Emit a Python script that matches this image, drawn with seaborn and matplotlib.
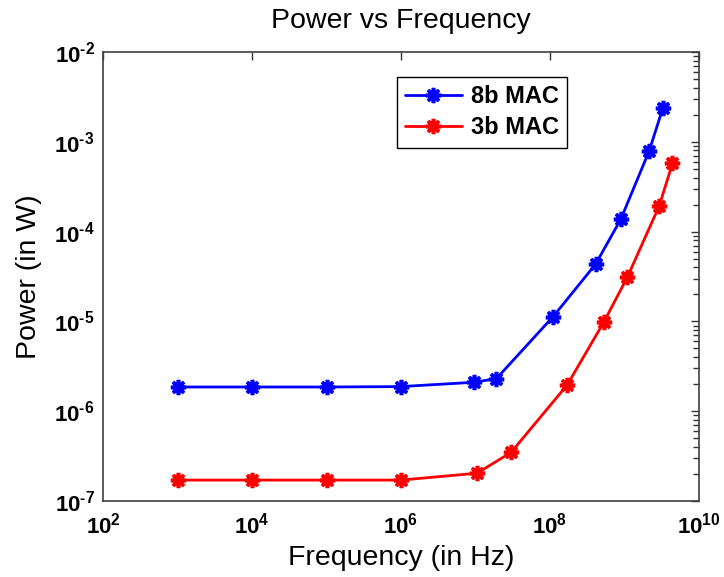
import numpy as np
import pandas as pd
import matplotlib
matplotlib.use("Agg")
import matplotlib.pyplot as plt
import seaborn as sns
from matplotlib.ticker import LogLocator, FixedLocator, FuncFormatter, NullFormatter

# Data
freq_8b = [1e3, 1e4, 1e5, 1e6, 9.5e6, 1.9e7, 1.1e8, 4.1e8, 8.9e8, 2.15e9, 3.26e9]
power_8b = [1.86e-6, 1.86e-6, 1.86e-6, 1.88e-6, 2.1e-6, 2.3e-6, 1.13e-5, 4.35e-5, 1.37e-4, 7.96e-4, 2.36e-3]
freq_3b = [1e3, 1e4, 1e5, 1e6, 1.05e7, 3e7, 1.7e8, 5.3e8, 1.09e9, 2.93e9, 4.4e9]
power_3b = [1.71e-7, 1.71e-7, 1.71e-7, 1.71e-7, 2.04e-7, 3.48e-7, 1.96e-6, 9.9e-6, 3.1e-5, 1.94e-4, 5.75e-4]
series_names = ["8b MAC", "3b MAC"]
colors = ["#0000ff", "#ff0000"]
x_ticks = [1e2, 1e4, 1e6, 1e8, 1e10]
y_ticks = [1e-7, 1e-6, 1e-5, 1e-4, 1e-3, 1e-2]

sns.set_theme(style="white")
plt.rcParams['font.family'] = ['Liberation Sans', 'DejaVu Sans']
plt.rcParams['mathtext.fontset'] = 'custom'
plt.rcParams['mathtext.rm'] = 'Liberation Sans:bold'
plt.rcParams['mathtext.bf'] = 'Liberation Sans:bold'
plt.rcParams['mathtext.it'] = 'Liberation Sans:bold'
for k in ['text.color', 'axes.labelcolor', 'xtick.color', 'ytick.color']:
    plt.rcParams[k] = 'black'

df = pd.concat([
    pd.DataFrame({"Frequency": freq_8b, "Power": power_8b, "Series": series_names[0]}),
    pd.DataFrame({"Frequency": freq_3b, "Power": power_3b, "Series": series_names[1]}),
])

fig = plt.figure(figsize=(7.24, 5.77), dpi=100)
ax = fig.add_axes([0.1423, 0.1317, 0.8232, 0.7782])

asterisk = (8, 2, 0)
for name, col in zip(series_names, colors):
    sub = df[df["Series"] == name]
    sns.lineplot(data=sub, x="Frequency", y="Power", ax=ax, color=col,
                 linewidth=2, marker=asterisk, markersize=11,
                 markeredgewidth=2.6, markeredgecolor=col, label=name,
                 estimator=None, sort=False)

ax.set_xscale("log")
ax.set_yscale("log")
ax.set_xlim(1e2, 1e10)
ax.set_ylim(1e-7, 1e-2)

def fmt(v, pos):
    e = int(round(np.log10(v)))
    if e < 0:
        return r"$10^{\text{-}%d}$" % (-e)
    return r"$10^{%d}$" % e

ax.xaxis.set_major_locator(FixedLocator(x_ticks))
ax.xaxis.set_minor_locator(FixedLocator([]))
ax.yaxis.set_major_locator(FixedLocator(y_ticks))
ax.yaxis.set_minor_locator(LogLocator(base=10, subs=np.arange(2, 10), numticks=20))
ax.xaxis.set_major_formatter(FuncFormatter(fmt))
ax.yaxis.set_major_formatter(FuncFormatter(fmt))
ax.yaxis.set_minor_formatter(NullFormatter())

ax.tick_params(which="both", direction="in", top=True, right=True,
               color="#333333", labelsize=16, labelcolor="black")
ax.tick_params(which="major", length=6, width=1)
ax.tick_params(which="minor", length=4, width=1)
ax.tick_params(axis="x", pad=8)
ax.tick_params(axis="y", pad=6)

for s in ax.spines.values():
    s.set_color("#404040")
    s.set_linewidth(1.2)

ax.set_xlabel("Frequency (in Hz)", fontsize=20.5, labelpad=5, color="black")
ax.set_ylabel("Power (in W)", fontsize=20.5, labelpad=9, color="black")
ax.set_title("Power vs Frequency", fontsize=20.5, pad=17, color="black")

leg = ax.legend(loc="upper left", bbox_to_anchor=(0.473, 0.971),
                frameon=True, fancybox=False, framealpha=1,
                edgecolor="black", handlelength=2.4, borderpad=0.35,
                labelspacing=0.35, handletextpad=0.4,
                prop={"weight": "bold", "size": 17})
leg.get_frame().set_linewidth(1.0)
for t in leg.get_texts():
    t.set_color("black")

fig.savefig("out.png", dpi=100)
